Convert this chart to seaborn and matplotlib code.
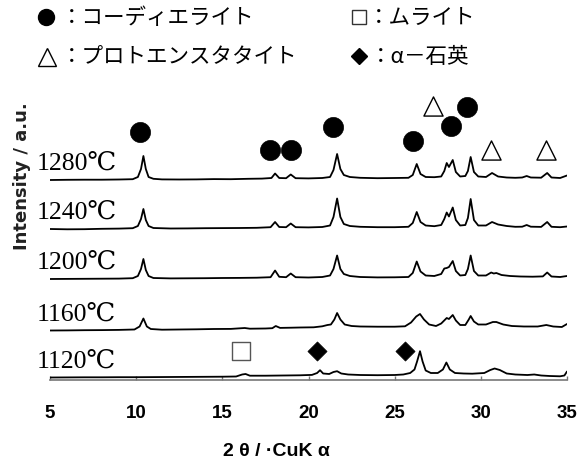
import numpy as np
import pandas as pd
import matplotlib
matplotlib.use("Agg")
import matplotlib.pyplot as plt
import seaborn as sns

# ---------------- data ----------------
temps = ["1280℃", "1240℃", "1200℃", "1160℃", "1120℃"]

x_1280 = [5.0, 6.0, 7.0, 8.0, 9.0, 9.8, 10.1, 10.28, 10.42, 10.56, 10.72, 11.0, 11.5, 12.5, 13.5, 14.5,
          15.5, 16.5, 17.3, 17.85, 18.06, 18.3, 18.7, 18.97, 19.25, 20.0, 20.8, 21.25, 21.45, 21.66,
          21.85, 22.05, 22.4, 23.0, 24.0, 25.0, 25.8, 26.05, 26.28, 26.5, 26.8, 27.3, 27.7, 27.88,
          28.02, 28.15, 28.37, 28.55, 28.8, 29.1, 29.25, 29.41, 29.6, 29.85, 30.3, 30.65, 31.0, 31.5,
          32.0, 32.4, 32.66, 32.9, 33.5, 33.85, 34.1, 34.6, 35.0]
y_1280 = [0, 0.2, 0.3, 0.3, 0.5, 0.8, 3, 11, 24, 11, 3, 1.2, 0.6, 0.5, 0.6, 0.9,
          0.8, 1.2, 1.4, 2, 6.5, 2, 1.8, 5.5, 1.8, 1.6, 2, 3, 10, 26,
          11, 5, 3, 2.2, 1.8, 2, 2.2, 5, 16, 6, 3, 2.8, 3.5, 9,
          17, 13, 20, 8, 3.5, 4, 9, 23, 8, 3.5, 3, 7, 3.5, 2.5,
          2.2, 2.5, 4, 2.5, 2.3, 7, 2.5, 2, 4.5]

x_1240 = [5.0, 6.0, 7.0, 8.0, 9.0, 9.8, 10.1, 10.28, 10.42, 10.56, 10.72, 11.0, 12.0, 13.0, 14.0, 15.0,
          16.0, 17.0, 17.8, 18.06, 18.3, 18.7, 18.97, 19.25, 20.0, 20.8, 21.25, 21.45, 21.66, 21.85,
          22.05, 22.4, 23.0, 24.0, 25.0, 25.8, 26.05, 26.28, 26.5, 26.8, 27.3, 27.7, 27.88, 28.02,
          28.15, 28.37, 28.55, 28.8, 29.1, 29.25, 29.41, 29.6, 29.85, 30.3, 30.65, 31.0, 31.5, 32.0,
          32.4, 32.66, 32.9, 33.5, 33.85, 34.1, 34.6, 35.0]
y_1240 = [0, -0.3, -0.2, 0.2, 0.4, 0.8, 3, 10, 20, 9, 3, 1, 0.5, 0.6, 0.8, 0.9,
          1.0, 1.2, 1.8, 7, 2, 1.8, 5.5, 1.8, 1.6, 2, 3.5, 12, 30.5, 12,
          5, 3, 2.2, 1.8, 1.8, 2.2, 6, 17, 7, 3.5, 2.8, 4, 10, 16.5,
          12.5, 21.5, 9, 3.5, 4, 11, 30, 9, 3.5, 3.5, 7, 4.5, 3, 2.2,
          2.3, 4, 2.3, 2.1, 7, 2.2, 1.8, 2.5]

x_1200 = [5.0, 6.0, 7.0, 8.0, 9.0, 9.8, 10.1, 10.28, 10.42, 10.56, 10.72, 11.0, 12.0, 13.0, 14.0, 15.0,
          16.0, 17.0, 17.8, 18.06, 18.3, 18.7, 18.97, 19.25, 20.0, 20.8, 21.25, 21.45, 21.66, 21.85,
          22.05, 22.4, 23.0, 24.0, 25.0, 25.8, 26.05, 26.28, 26.5, 26.8, 27.3, 27.7, 27.88, 28.02,
          28.15, 28.37, 28.55, 28.8, 29.1, 29.25, 29.41, 29.6, 29.85, 30.3, 30.6, 30.75, 30.9, 31.2,
          31.7, 32.3, 33.0, 33.6, 33.85, 34.1, 34.6, 35.0]
y_1200 = [0, 0.1, 0.2, 0.3, 0.4, 0.8, 3, 10, 20, 9, 3, 1, 0.6, 0.7, 0.8, 1.0,
          1.1, 1.3, 1.8, 8.5, 2.2, 1.8, 5.5, 1.8, 1.5, 2, 3.5, 10, 23.5, 10,
          5, 3, 2, 1.6, 1.7, 2, 6, 17.5, 7.5, 3.5, 3, 5, 10.5, 11,
          12, 18, 8, 3.5, 4, 10, 23.5, 8, 3.5, 3.5, 6.5, 5.5, 6, 4,
          3, 2.5, 2.3, 2.6, 6.5, 2.5, 2, 3]

x_1160 = [5.0, 6.0, 7.0, 8.0, 9.0, 9.9, 10.2, 10.42, 10.62, 10.85, 11.5, 12.5, 13.5, 14.5, 15.5, 16.3,
          16.6, 17.5, 17.9, 18.1, 18.35, 19.0, 19.5, 20.3, 20.8, 21.1, 21.3, 21.5, 21.66, 21.85,
          22.1, 22.5, 23.0, 24.0, 25.0, 25.6, 25.95, 26.25, 26.47, 26.7, 27.0, 27.4, 27.7, 28.02,
          28.15, 28.37, 28.55, 28.8, 29.1, 29.3, 29.41, 29.6, 29.85, 30.3, 30.7, 30.9, 31.3, 31.8,
          32.5, 33.3, 33.8, 34.2, 34.7, 35.0]
y_1160 = [0, 0.1, 0.3, 0.4, 0.6, 1, 4, 12, 4, 1.5, 0.8, 1, 1.2, 1.5, 1.6, 2.5,
          1.8, 2, 2.3, 4.5, 2.6, 2.8, 3, 3.2, 4.2, 5.5, 6, 11, 17.5, 11,
          6, 4.5, 4, 3.8, 3.8, 4.2, 8, 14, 16.5, 11, 6, 4.5, 7, 12.5,
          11.5, 15.5, 10, 5.5, 5.5, 11, 14.5, 9, 6, 6, 8.5, 8.5, 6, 4.5,
          4, 4, 5.5, 4, 3.5, 6.5]

x_1120 = [5.0, 6.0, 7.0, 8.0, 9.0, 10.0, 11.0, 12.0, 13.0, 14.0, 15.0, 15.8, 16.15, 16.35, 16.6, 17.5,
          18.5, 19.5, 20.2, 20.5, 20.67, 20.85, 21.2, 21.45, 21.66, 21.9, 22.3, 23.0, 24.0, 25.0,
          25.5, 25.9, 26.15, 26.3, 26.47, 26.62, 26.8, 27.1, 27.5, 27.8, 28.0, 28.2, 28.5, 29.0,
          29.5, 30.2, 30.55, 30.8, 31.1, 31.5, 32.0, 32.7, 33.1, 33.5, 34.0, 34.6, 34.85, 35.0]
y_1120 = [0, 0.1, 0.2, 0.2, 0.3, 0.3, 0.4, 0.5, 0.6, 0.7, 0.8, 1, 3, 3.5, 1.8, 1.8,
          2, 2.2, 2.6, 4.5, 7.3, 4, 3.5, 5.5, 6.3, 4, 3, 2.5, 2.3, 2.5,
          3, 4.5, 8, 16, 26.3, 16, 7, 4.5, 4.5, 8, 15, 8, 4.5, 4,
          3.8, 4.5, 7.5, 9, 7.5, 4, 3, 2.5, 3, 2, 1.5, 1.2, 2, 6]

# peak assignments (2θ, marker height in a.u.)
cordierite_x = [10.22, 17.77, 18.99, 21.42, 26.07, 28.27, 29.20]
cordierite_y = [248, 230, 230, 253, 239, 254, 273]
protoenstatite_x = [27.23, 30.59, 33.77]
protoenstatite_y = [274, 230, 230]
mullite_x = [16.07]
mullite_y = [29]
quartz_x = [20.50, 25.60]
quartz_y = [29, 29]

legend_labels = ["：コーディエライト", "：ムライト", "：プロトエンスタタイト", "：α－石英"]
x_ticks = [5, 10, 15, 20, 25, 30, 35]

# ---------------- layout constants ----------------
offsets = [200, 151, 101, 49.5, 2.5]

sns.set_style("white")
plt.rcParams["font.family"] = ["DejaVu Sans", "Noto Sans CJK JP"]

W, H = 583, 464
fig = plt.figure(figsize=(W / 100, H / 100), dpi=100)
ax = fig.add_axes([50 / W, (H - 381) / H, 517 / W, 286 / H])

frames = []
for t, xs, ys, off in zip(temps,
                          [x_1280, x_1240, x_1200, x_1160, x_1120],
                          [y_1280, y_1240, y_1200, y_1160, y_1120],
                          offsets):
    frames.append(pd.DataFrame({"two_theta": xs, "intensity": np.array(ys) + off, "temp": t}))
df = pd.concat(frames, ignore_index=True)

sns.lineplot(data=df, x="two_theta", y="intensity", hue="temp", palette=["black"] * 5,
             estimator=None, sort=False, legend=False, linewidth=1.3, ax=ax)

sns.scatterplot(x=cordierite_x, y=cordierite_y, marker="o", s=210, color="black",
                edgecolor="black", linewidth=0.5, ax=ax, zorder=5)
sns.scatterplot(x=protoenstatite_x, y=protoenstatite_y, marker="^", s=190, facecolor="white",
                edgecolor="black", linewidth=1.0, ax=ax, zorder=5)
sns.scatterplot(x=mullite_x, y=mullite_y, marker="s", s=150, facecolor="white",
                edgecolor="#555555", linewidth=1.0, ax=ax, zorder=5)
sns.scatterplot(x=quartz_x, y=quartz_y, marker="D", s=95, color="black",
                edgecolor="black", linewidth=0.5, ax=ax, zorder=5)

serif = ["Liberation Serif", "DejaVu Serif", "DejaVu Sans", "Noto Sans CJK JP"]
for t, off in zip(temps, offsets):
    ax.text(4.2, off + 11, t, ha="left", va="baseline", fontsize=18.5, family=serif,
            color="black", clip_on=False)

ax.set_xlim(5, 35)
ax.set_ylim(0, 286)
ax.set_xticks(x_ticks)
ax.set_xticklabels([str(v) for v in x_ticks], fontsize=13.5, fontweight="bold",
                   family=["Liberation Sans", "DejaVu Sans"])
ax.set_yticks([])
ax.set_xlabel("")
ax.set_ylabel("")
for s in ["left", "top", "right"]:
    ax.spines[s].set_visible(False)
ax.spines["bottom"].set_color("#777777")
ax.spines["bottom"].set_linewidth(1.2)
ax.tick_params(axis="x", direction="in", length=3, width=1, color="#777777", pad=17,
               labelcolor="black", bottom=True)
ax.patch.set_alpha(0)

fig.text(22 / W, (H - 176) / H, "Intensity / a.u.", rotation=90, ha="center", va="center",
         fontsize=13, fontweight="bold", color="#222222")
fig.text(276 / W, (H - 452) / H, "2 θ / ·CuK α", ha="center", va="center",
         fontsize=14, fontweight="bold", family=["Liberation Sans", "DejaVu Sans"], color="black")

# legend block at the top
ov = fig.add_axes([0, 0, 1, 1], zorder=10)
ov.set_xlim(0, W)
ov.set_ylim(H, 0)
ov.axis("off")
ov.plot([46], [18], marker="o", markersize=11.5, color="black", linestyle="none")
ov.plot([359], [18], marker="s", markersize=9.5, markerfacecolor="white",
        markeredgecolor="#333333", markeredgewidth=1.0, linestyle="none")
ov.plot([47], [58], marker="^", markersize=13, markerfacecolor="white",
        markeredgecolor="black", markeredgewidth=1.0, linestyle="none")
ov.plot([359], [57], marker="D", markersize=8.5, color="black", linestyle="none")
cjk = ["Noto Sans CJK JP", "DejaVu Sans"]
for (tx, ty), lab in zip([(61, 18), (368, 18), (61, 57), (370, 57)], legend_labels):
    ov.text(tx, ty, lab, ha="left", va="center", fontsize=15.5, family=cjk, color="black")

fig.savefig("out.png", dpi=100)
